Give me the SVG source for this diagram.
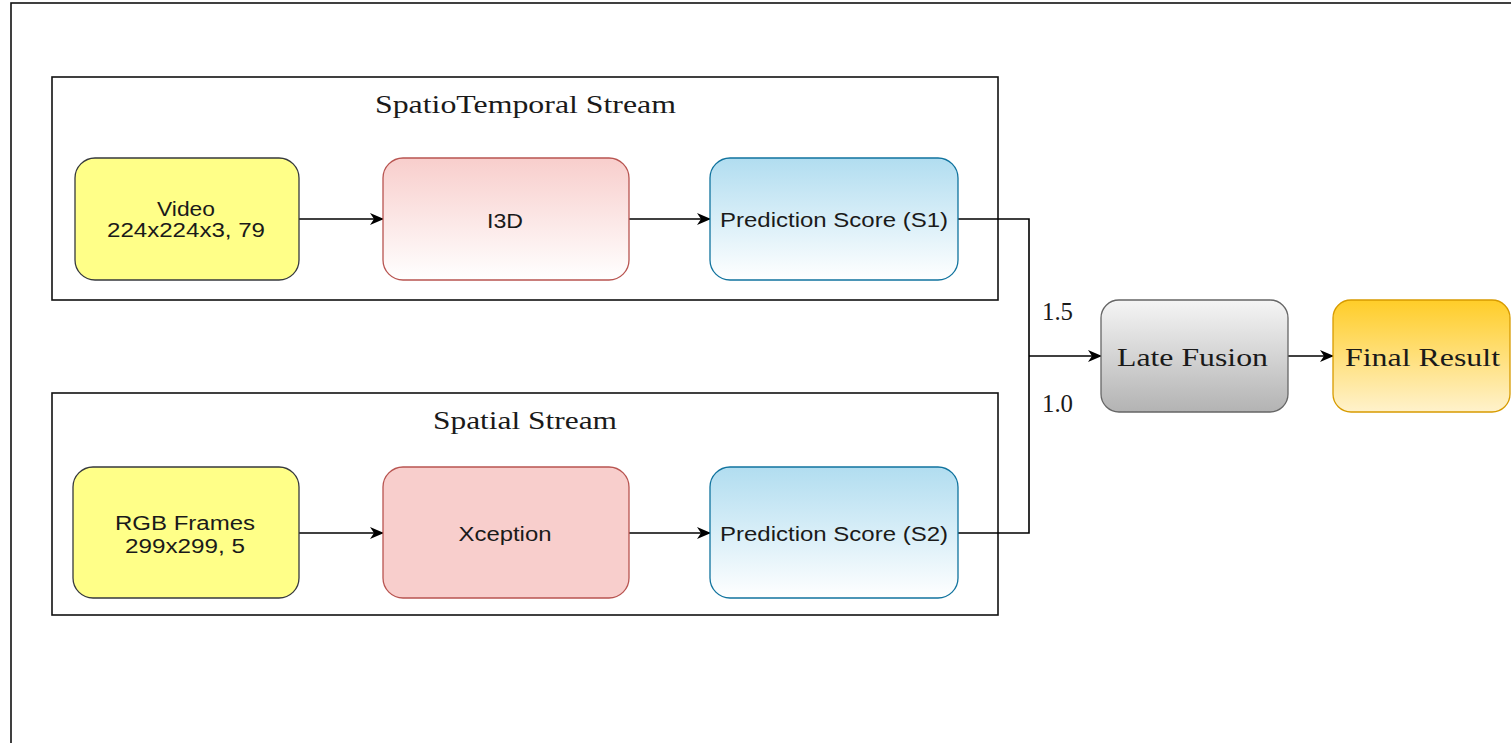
<svg xmlns="http://www.w3.org/2000/svg" width="1511" height="743" viewBox="0 0 1511 743">
<style>
.sans{font-family:"Liberation Sans",Arial,sans-serif;font-size:20px;fill:#1a1a1a;text-anchor:middle}
.serif{font-family:"Liberation Serif","Times New Roman",serif;font-size:26px;fill:#1a1a1a;text-anchor:middle}
.frame{fill:none;stroke:#111;stroke-width:1.6}
.edge{fill:none;stroke:#000;stroke-width:1.6}
</style>
<defs>
<linearGradient id="gRed" x1="0" y1="0" x2="0" y2="1"><stop offset="0" stop-color="#f8cecc"/><stop offset="1" stop-color="#ffffff"/></linearGradient>
<linearGradient id="gBlue" x1="0" y1="0" x2="0" y2="1"><stop offset="0" stop-color="#b1ddf0"/><stop offset="1" stop-color="#ffffff"/></linearGradient>
<linearGradient id="gGray" x1="0" y1="0" x2="0" y2="1"><stop offset="0" stop-color="#f5f5f5"/><stop offset="1" stop-color="#b3b3b3"/></linearGradient>
<linearGradient id="gOrange" x1="0" y1="0" x2="0" y2="1"><stop offset="0" stop-color="#ffcd28"/><stop offset="1" stop-color="#fff2cc"/></linearGradient>
<marker id="arrow" viewBox="0 0 14 12" refX="13" refY="6" markerWidth="14" markerHeight="12" markerUnits="userSpaceOnUse" orient="auto">
<path d="M0,0 L14,6 L0,12 L4,6 Z" fill="#000"/>
</marker>
</defs>
<rect width="1511" height="743" fill="#fff"/>
<rect id="outer-frame" x="11" y="3" width="1600" height="800" class="frame"/>

<g id="spatiotemporal-stream">
<rect x="52" y="77" width="946" height="223" class="frame"/>
<text class="serif" x="525.5" y="113" textLength="301" lengthAdjust="spacingAndGlyphs">SpatioTemporal Stream</text>
</g>
<g id="spatial-stream">
<rect x="52" y="393" width="946" height="222" class="frame"/>
<text class="serif" x="525" y="429" textLength="184" lengthAdjust="spacingAndGlyphs">Spatial Stream</text>
</g>

<g id="connectors">
<line x1="299" y1="219" x2="383" y2="219" class="edge" marker-end="url(#arrow)"/>
<line x1="629" y1="219" x2="710" y2="219" class="edge" marker-end="url(#arrow)"/>
<line x1="299" y1="533" x2="383" y2="533" class="edge" marker-end="url(#arrow)"/>
<line x1="629" y1="533" x2="710" y2="533" class="edge" marker-end="url(#arrow)"/>
<polyline points="958,219 1029,219 1029,533 958,533" class="edge"/>
<line x1="1029" y1="356" x2="1101" y2="356" class="edge" marker-end="url(#arrow)"/>
<line x1="1288" y1="356" x2="1333" y2="356" class="edge" marker-end="url(#arrow)"/>
<text class="serif" x="1057.5" y="320" textLength="31" lengthAdjust="spacingAndGlyphs">1.5</text>
<text class="serif" x="1057.5" y="412" textLength="31" lengthAdjust="spacingAndGlyphs">1.0</text>
</g>

<g id="video">
<rect x="75" y="158" width="224" height="122" rx="20" fill="#ffff88" stroke="#36393d" stroke-width="1.3"/>
<text class="sans" x="186" y="216" textLength="58" lengthAdjust="spacingAndGlyphs">Video</text>
<text class="sans" x="186" y="237" textLength="158" lengthAdjust="spacingAndGlyphs">224x224x3, 79</text>
</g>
<g id="i3d">
<rect x="383" y="158" width="246" height="122" rx="20" fill="url(#gRed)" stroke="#b85450" stroke-width="1.3"/>
<text class="sans" x="505" y="228" textLength="36" lengthAdjust="spacingAndGlyphs">I3D</text>
</g>
<g id="score-s1">
<rect x="710" y="158" width="248" height="122" rx="20" fill="url(#gBlue)" stroke="#10739e" stroke-width="1.3"/>
<text class="sans" x="834" y="227" textLength="228" lengthAdjust="spacingAndGlyphs">Prediction Score (S1)</text>
</g>
<g id="rgb-frames">
<rect x="73" y="467" width="226" height="131" rx="20" fill="#ffff88" stroke="#36393d" stroke-width="1.3"/>
<text class="sans" x="185" y="530" textLength="140" lengthAdjust="spacingAndGlyphs">RGB Frames</text>
<text class="sans" x="185" y="553" textLength="120" lengthAdjust="spacingAndGlyphs">299x299, 5</text>
</g>
<g id="xception">
<rect x="383" y="467" width="246" height="131" rx="20" fill="#f8cecc" stroke="#b85450" stroke-width="1.3"/>
<text class="sans" x="505" y="541" textLength="93" lengthAdjust="spacingAndGlyphs">Xception</text>
</g>
<g id="score-s2">
<rect x="710" y="467" width="248" height="131" rx="20" fill="url(#gBlue)" stroke="#10739e" stroke-width="1.3"/>
<text class="sans" x="834" y="541" textLength="228" lengthAdjust="spacingAndGlyphs">Prediction Score (S2)</text>
</g>
<g id="late-fusion">
<rect x="1101" y="300" width="187" height="112" rx="18" fill="url(#gGray)" stroke="#666666" stroke-width="1.3"/>
<text class="serif" x="1192.5" y="366" textLength="151" lengthAdjust="spacingAndGlyphs">Late Fusion</text>
</g>
<g id="final-result">
<rect x="1333" y="300" width="177" height="112" rx="18" fill="url(#gOrange)" stroke="#d79b00" stroke-width="1.3"/>
<text class="serif" x="1422.5" y="366" textLength="155" lengthAdjust="spacingAndGlyphs">Final Result</text>
</g>
</svg>
